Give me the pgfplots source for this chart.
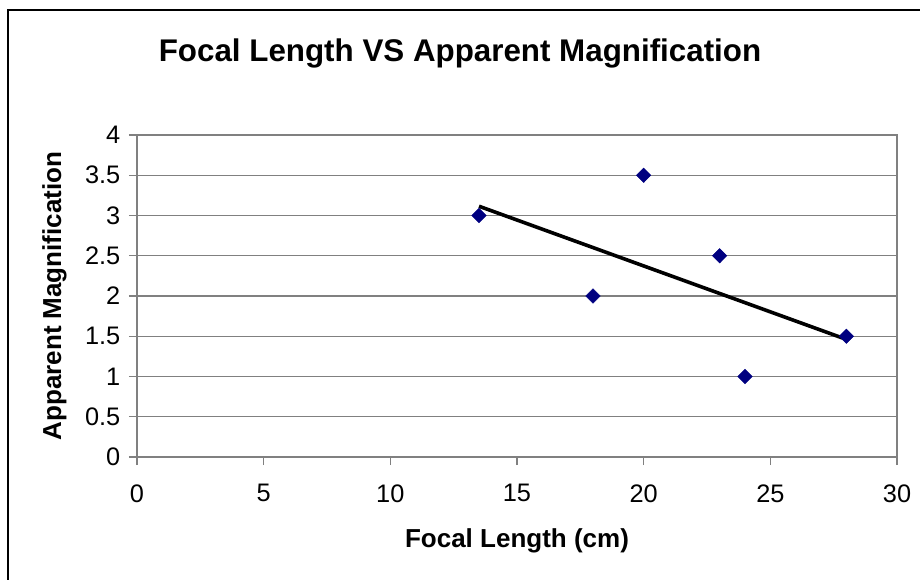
\documentclass[border=0pt]{standalone}
\usepackage{pgfplots}
\pgfplotsset{compat=1.18}
\usepackage{fontspec}
\setmainfont{Liberation Sans}
\definecolor{excelNavy}{RGB}{0,0,128}
\definecolor{gridGray}{RGB}{128,128,128}
\begin{document}
\begin{tikzpicture}[x=0.75pt,y=0.75pt]
% page = 920 x 579 px, axis origin at px (137,457)
\useasboundingbox (-137,-122) rectangle (783,457);
\draw[line width=1.5pt] (-129,-140) rectangle (820,447);
\node[font=\fontsize{23.5}{27}\selectfont\bfseries] at (323,404) {Focal Length VS Apparent Magnification};
\begin{axis}[
  at={(0,0)}, anchor=origin,
  scale only axis,
  width=570pt, height=241.5pt,
  xmin=0, xmax=30, ymin=0, ymax=4,
  xtick={0,5,...,30},
  ytick={0,0.5,...,4},
  yticklabels={0,0.5,1,1.5,2,2.5,3,3.5,4},
  axis line style={gridGray, line width=0.9pt},
  tick style={gridGray, line width=0.9pt},
  tick align=outside,
  major tick length=6pt,
  xtick pos=bottom, ytick pos=left,
  ymajorgrids,
  grid style={gridGray, line width=0.9pt},
  ticklabel style={font=\fontsize{19}{22}\selectfont},
  /pgf/number format/assume math mode=true,
  xticklabel style={yshift=-11pt},
  yticklabel style={xshift=-3pt},
  xlabel={\textbf{Focal Length (cm)}},
  ylabel={\textbf{Apparent Magnification}},
  label style={font=\fontsize{19.5}{22}\selectfont},
  xlabel style={yshift=-13pt},
  ylabel style={yshift=7pt},
  clip=false,
]
\addplot[only marks, mark=diamond*, mark size=5.4pt, mark options={xscale=1.33, fill=excelNavy, draw=excelNavy}]
  coordinates {(13.5,3) (18,2) (20,3.5) (23,2.5) (24,1) (28,1.5)};
\addplot[black, line width=2.7pt] coordinates {(13.5,3.115) (28,1.461)};
\end{axis}
\end{tikzpicture}
\end{document}
